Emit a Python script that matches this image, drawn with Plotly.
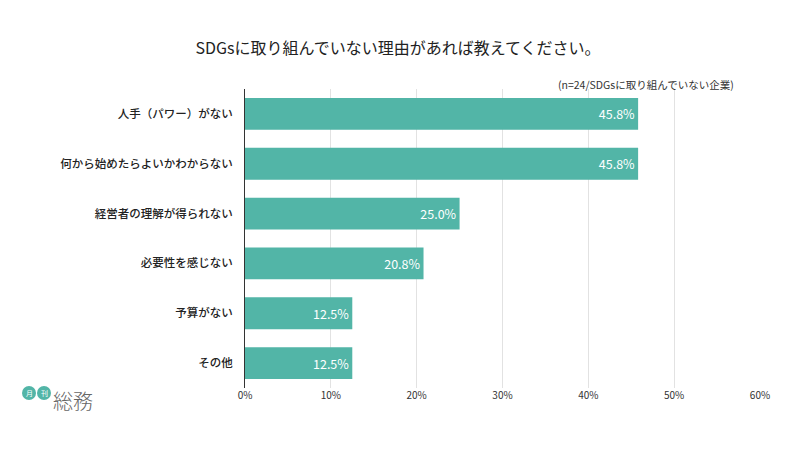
import plotly.graph_objects as go

categories = ["人手（パワー）がない", "何から始めたらよいかわからない", "経営者の理解が得られない",
              "必要性を感じない", "予算がない", "その他"]
values = [45.8, 45.8, 25.0, 20.8, 12.5, 12.5]
tick_vals = [0, 10, 20, 30, 40, 50, 60]
tick_text = ["0%", "10%", "20%", "30%", "40%", "50%", "60%"]

FONT = "Noto Sans CJK JP"
BAR = "#52b5a7"

# page has an 8px body margin: figure origin sits at page (8, 8)
OX, OY = 8, 8
L, T, PW, PH = 245 - OX, 89 - OY, 515, 299

fig = go.Figure(go.Bar(
    x=values, y=categories, orientation="h",
    marker=dict(color=BAR, line=dict(width=0)),
    text=[f"{v:.1f}%" for v in values], textposition="inside",
    insidetextanchor="end",
    textfont=dict(color="white", size=12.5, family=FONT),
    cliponaxis=False,
))

fig.update_layout(
    width=800, height=450,
    margin=dict(l=L, r=800 - L - PW, t=T, b=450 - T - PH, autoexpand=False),
    paper_bgcolor="white", plot_bgcolor="white",
    bargap=0.36,
    showlegend=False,
    font=dict(family=FONT, color="#222"),
    title=dict(text="SDGsに取り組んでいない理由があれば教えてください。",
               xref="container", yref="container",
               x=(398 - OX) / 800, xanchor="center", y=1 - (48 - OY) / 450, yanchor="middle",
               font=dict(size=16, color="#222", family=FONT)),
    xaxis=dict(range=[0, 60], tickvals=tick_vals, ticktext=tick_text,
               showgrid=True, gridcolor="#e2e2e2", gridwidth=1,
               zeroline=False, showline=False, ticks="",
               tickfont=dict(size=10, color="#333", family=FONT)),
    yaxis=dict(autorange="reversed", showline=True, linecolor="#333", linewidth=1,
               ticks="", ticklabelstandoff=9,
               tickfont=dict(size=11.5, color="#222", family=FONT, weight=500)),
)

def px(xp):
    return (xp - OX - L) / PW

def py(yp):
    return (T + PH - (yp - OY)) / PH

fig.add_annotation(text="(n=24/SDGsに取り組んでいない企業)", xref="paper", yref="paper",
                   x=px(736), y=py(84), xanchor="right", yanchor="middle",
                   showarrow=False, font=dict(size=10.5, color="#333", family=FONT))

# logo
for cx, ch in [(29, "月"), (44, "刊")]:
    fig.add_shape(type="circle", xref="paper", yref="paper",
                  x0=px(cx - 7), x1=px(cx + 7), y0=py(400), y1=py(386),
                  fillcolor="#52b5a7", line=dict(width=0), layer="below")
    fig.add_annotation(text=ch, xref="paper", yref="paper",
                       x=px(cx), y=py(393), xanchor="center", yanchor="middle",
                       showarrow=False, font=dict(size=7, color="white", family=FONT))
fig.add_annotation(text="総務", xref="paper", yref="paper",
                   x=px(51), y=py(400), xanchor="left", yanchor="middle",
                   showarrow=False, font=dict(size=20, color="#666", family=FONT, weight=300))

fig.write_html("out.html")
